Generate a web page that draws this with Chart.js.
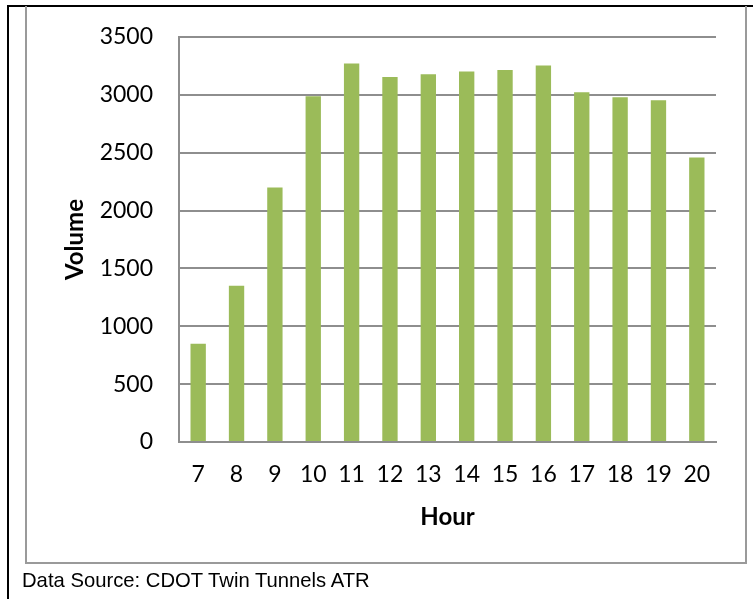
<!DOCTYPE html>
<html>
<head>
<meta charset="utf-8">
<script src="https://cdn.jsdelivr.net/npm/chart.js@4.4.1/dist/chart.umd.min.js"></script>
<style>
  body { margin: 0; background: #fff; width: 753px; height: 599px; overflow: hidden; position: relative; }
  #frameTop { position: absolute; left: 7px; top: 5px; width: 746px; height: 2px; background: #000; }
  #frameLeft { position: absolute; left: 7px; top: 5px; width: 2px; height: 594px; background: #000; }
  #box { position: absolute; left: 25px; top: 6px; width: 718px; height: 556px; border: 2px solid #9a9a9a; border-top: none; }
  #graficHour { position: absolute; left: 0; top: 0; }
  #source { position: absolute; left: 22px; top: 570px; font: 21px 'Liberation Sans Narrow', 'Arial Narrow', 'Liberation Sans', sans-serif;
    line-height: 20px; white-space: nowrap; color: #000; transform-origin: 0 0; }
</style>
</head>
<body>
<div id="frameTop"></div>
<div id="frameLeft"></div>
<div id="box"></div>
<canvas id="graficHour" width="753" height="599"></canvas>
<span id="source">Data Source: CDOT Twin Tunnels ATR</span>
<script>
var hours = ['7','8','9','10','11','12','13','14','15','16','17','18','19','20'];
var volumes = [848, 1351, 2200, 2988, 3270, 3155, 3178, 3201, 3215, 3253, 3023, 2980, 2954, 2459];
var volumeTicks = [0, 500, 1000, 1500, 2000, 2500, 3000, 3500];

// stretch the source note to the width it has in the report
var src = document.getElementById('source');
src.style.transform = 'scaleX(' + (348 / src.offsetWidth) + ')';

var gridGrey = '#8e8e8e';

var ctx = document.getElementById('graficHour');
var chart = new Chart(ctx, {
  type: 'bar',
  data: {
    labels: hours,
    datasets: [{
      label: 'Volume',
      data: volumes,
      backgroundColor: '#9BBB59',
      borderWidth: 0,
      barPercentage: 0.4,
      categoryPercentage: 1
    }]
  },
  options: {
    responsive: false,
    animation: false,
    layout: { padding: { left: 0, top: 37, right: 37, bottom: 59 } },
    plugins: { legend: { display: false }, tooltip: { enabled: false } },
    scales: {
      x: {
        grid: { display: false, drawTicks: false },
        border: { display: true, color: gridGrey, width: 2 },
        ticks: { color: '#000', font: { family: 'Lato', size: 23 }, padding: 19, maxRotation: 0, autoSkip: false },
        title: { display: true, text: 'Hour', color: '#000', font: { family: 'Lato', size: 24, weight: 'bold' }, padding: { top: 0, bottom: 8 } },
        afterFit: function(scale) { scale.height = 98; }
      },
      y: {
        min: volumeTicks[0],
        max: volumeTicks[volumeTicks.length - 1],
        grid: { color: gridGrey, lineWidth: 2, drawTicks: false },
        border: { display: true, color: gridGrey, width: 2 },
        ticks: {
          stepSize: volumeTicks[1] - volumeTicks[0],
          color: '#000',
          font: { family: 'Lato', size: 23 },
          padding: 26,
          callback: function(v) { return String(v); }
        },
        title: { display: true, text: 'Volume', color: '#000', font: { family: 'Lato', size: 24, weight: 'bold' }, padding: { top: 61, bottom: 0 } },
        afterFit: function(scale) {
          scale.width = 179;
          // the big label gap should not push the plot down
          scale.paddingTop = 0;
          scale.paddingBottom = 0;
        }
      }
    }
  }
});
</script>
</body>
</html>
